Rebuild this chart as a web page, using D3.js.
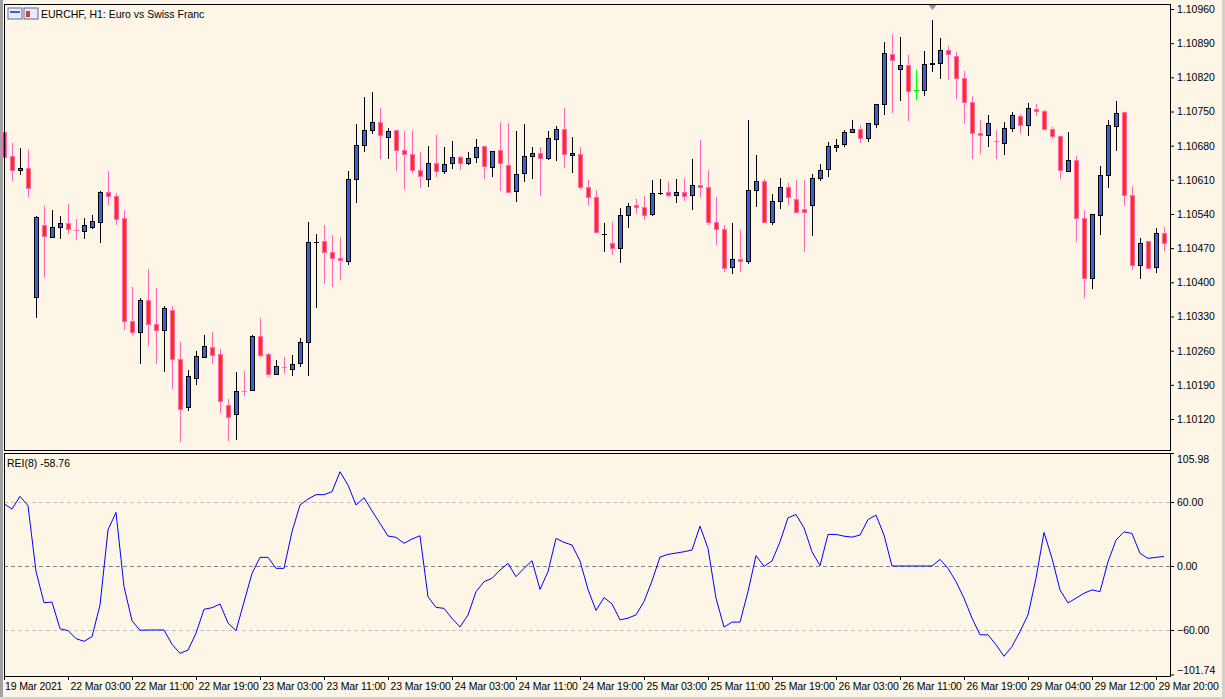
<!DOCTYPE html>
<html><head><meta charset="utf-8">
<script src="https://cdn.jsdelivr.net/npm/d3@7"></script>
<style>html,body{margin:0;padding:0;background:#fdf6e7;overflow:hidden}svg{display:block}text{font-family:"Liberation Sans",Arial,sans-serif;font-size:10.5px;fill:#000}</style>
</head><body><svg id="c" width="1225" height="699"></svg>
<script>
const openP=[1.10708,1.10659,1.10630,1.10634,1.10370,1.10517,1.10493,1.10513,1.10521,1.10508,1.10505,1.10513,1.10523,1.10585,1.10577,1.10532,1.10321,1.10298,1.10364,1.10314,1.10302,1.10343,1.10243,1.10144,1.10204,1.10247,1.10267,1.10253,1.10149,1.10130,1.10178,1.10179,1.10290,1.10253,1.10212,1.10227,1.10222,1.10235,1.10278,1.10482,1.10485,1.10462,1.10450,1.10444,1.10612,1.10681,1.10712,1.10728,1.10698,1.10712,1.10671,1.10663,1.10630,1.10612,1.10644,1.10628,1.10644,1.10657,1.10644,1.10657,1.10679,1.10636,1.10671,1.10640,1.10587,1.10624,1.10659,1.10665,1.10655,1.10694,1.10714,1.10661,1.10663,1.10595,1.10575,1.10498,1.10481,1.10470,1.10538,1.10558,1.10554,1.10540,1.10583,1.10585,1.10579,1.10585,1.10579,1.10599,1.10595,1.10523,1.10509,1.10431,1.10448,1.10444,1.10589,1.10608,1.10523,1.10567,1.10595,1.10571,1.10550,1.10558,1.10614,1.10632,1.10677,1.10683,1.10708,1.10714,1.10696,1.10724,1.10765,1.10868,1.10837,1.10845,1.10794,1.10794,1.10848,1.10849,1.10876,1.10864,1.10818,1.10769,1.10706,1.10702,1.10690,1.10685,1.10716,1.10741,1.10722,1.10755,1.10751,1.10714,1.10700,1.10628,1.10651,1.10532,1.10409,1.10538,1.10620,1.10720,1.10749,1.10579,1.10435,1.10485,1.10431,1.10501];
const highP=[1.10712,1.10685,1.10675,1.10671,1.10536,1.10556,1.10548,1.10536,1.10560,1.10530,1.10532,1.10538,1.10587,1.10628,1.10583,1.10548,1.10390,1.10368,1.10427,1.10388,1.10351,1.10351,1.10278,1.10220,1.10259,1.10292,1.10298,1.10263,1.10161,1.10216,1.10218,1.10292,1.10327,1.10255,1.10241,1.10247,1.10251,1.10286,1.10523,1.10499,1.10517,1.10497,1.10493,1.10628,1.10724,1.10780,1.10790,1.10757,1.10716,1.10712,1.10710,1.10712,1.10667,1.10679,1.10702,1.10677,1.10689,1.10659,1.10667,1.10694,1.10679,1.10669,1.10728,1.10726,1.10710,1.10724,1.10677,1.10677,1.10710,1.10720,1.10757,1.10698,1.10677,1.10609,1.10589,1.10521,1.10523,1.10552,1.10562,1.10571,1.10577,1.10609,1.10612,1.10606,1.10612,1.10614,1.10653,1.10692,1.10630,1.10575,1.10517,1.10521,1.10507,1.10733,1.10661,1.10612,1.10581,1.10614,1.10603,1.10609,1.10609,1.10622,1.10642,1.10687,1.10694,1.10712,1.10733,1.10722,1.10726,1.10765,1.10892,1.10909,1.10903,1.10866,1.10835,1.10874,1.10937,1.10901,1.10884,1.10872,1.10833,1.10782,1.10733,1.10742,1.10712,1.10728,1.10749,1.10745,1.10767,1.10765,1.10753,1.10718,1.10700,1.10708,1.10659,1.10548,1.10540,1.10638,1.10733,1.10771,1.10749,1.10597,1.10491,1.10485,1.10511,1.10513];
const lowP=[1.10655,1.10607,1.10620,1.10575,1.10327,1.10409,1.10493,1.10489,1.10499,1.10487,1.10489,1.10509,1.10480,1.10558,1.10517,1.10302,1.10292,1.10233,1.10269,1.10233,1.10216,1.10181,1.10073,1.10136,1.10190,1.10247,1.10233,1.10132,1.10075,1.10077,1.10167,1.10179,1.10247,1.10206,1.10210,1.10212,1.10208,1.10226,1.10208,1.10347,1.10396,1.10390,1.10405,1.10435,1.10562,1.10667,1.10704,1.10653,1.10653,1.10628,1.10589,1.10624,1.10593,1.10595,1.10616,1.10622,1.10632,1.10630,1.10640,1.10644,1.10612,1.10616,1.10587,1.10585,1.10564,1.10606,1.10612,1.10577,1.10651,1.10648,1.10634,1.10624,1.10589,1.10556,1.10501,1.10462,1.10456,1.10440,1.10511,1.10540,1.10528,1.10536,1.10579,1.10575,1.10562,1.10566,1.10548,1.10573,1.10517,1.10476,1.10421,1.10417,1.10421,1.10437,1.10554,1.10521,1.10517,1.10550,1.10558,1.10542,1.10462,1.10495,1.10608,1.10616,1.10667,1.10677,1.10708,1.10685,1.10687,1.10716,1.10743,1.10747,1.10771,1.10730,1.10773,1.10782,1.10831,1.10817,1.10814,1.10776,1.10724,1.10653,1.10663,1.10677,1.10653,1.10661,1.10708,1.10704,1.10700,1.10741,1.10714,1.10694,1.10612,1.10628,1.10483,1.10368,1.10386,1.10497,1.10593,1.10669,1.10556,1.10425,1.10407,1.10429,1.10419,1.10464];
const closeP=[1.10657,1.10630,1.10634,1.10593,1.10534,1.10495,1.10513,1.10521,1.10509,1.10507,1.10517,1.10526,1.10585,1.10577,1.10530,1.10321,1.10298,1.10364,1.10314,1.10302,1.10347,1.10243,1.10140,1.10208,1.10249,1.10269,1.10251,1.10157,1.10124,1.10177,1.10177,1.10290,1.10251,1.10212,1.10228,1.10226,1.10233,1.10278,1.10483,1.10483,1.10462,1.10450,1.10446,1.10612,1.10681,1.10712,1.10728,1.10702,1.10710,1.10671,1.10663,1.10630,1.10618,1.10644,1.10628,1.10642,1.10657,1.10644,1.10655,1.10677,1.10638,1.10669,1.10644,1.10585,1.10622,1.10659,1.10665,1.10655,1.10696,1.10714,1.10663,1.10665,1.10595,1.10575,1.10503,1.10499,1.10470,1.10538,1.10556,1.10554,1.10538,1.10583,1.10584,1.10579,1.10585,1.10577,1.10599,1.10595,1.10523,1.10509,1.10429,1.10448,1.10444,1.10589,1.10608,1.10523,1.10567,1.10595,1.10575,1.10544,1.10544,1.10614,1.10630,1.10679,1.10681,1.10708,1.10714,1.10696,1.10726,1.10765,1.10870,1.10855,1.10845,1.10792,1.10794,1.10847,1.10849,1.10876,1.10868,1.10818,1.10769,1.10706,1.10702,1.10726,1.10689,1.10716,1.10743,1.10722,1.10757,1.10751,1.10714,1.10700,1.10630,1.10651,1.10532,1.10409,1.10540,1.10620,1.10722,1.10747,1.10579,1.10435,1.10481,1.10429,1.10501,1.10481];
const rei=[58.4,53.4,65.3,56.6,-5,-34.4,-33.8,-58.8,-60.6,-68.1,-70.6,-66.3,-36.6,33.8,50.3,-19.4,-51.3,-60.3,-60,-60,-60,-73.4,-81.9,-78.8,-63.1,-40.6,-39.1,-35.6,-53.4,-60.6,-33.8,-6.9,8.1,8.1,-2.2,-2.2,32.2,57.2,62.8,66.9,66.9,69.7,88.4,75.9,57.2,64.1,51.6,40,28.1,26.9,21.3,25.3,28.4,-28.8,-38.8,-39.7,-49.1,-57.2,-45.9,-24.1,-14.7,-11.6,-3.8,2.5,-10,-2.2,5,-21.9,-5.3,25.9,22.2,19.7,4.7,-22,-41.7,-29.6,-35.5,-50.5,-48.9,-45.8,-33.3,-14,8.4,10.9,12.1,13.4,15,37.4,16.5,-30.2,-57.3,-52.6,-52.6,-24,9.7,-0.3,4.7,22.7,45.2,48.3,35.8,13.4,0.3,29.6,29.6,28,27.1,29,43.6,47.7,29,0,0,0,0,0,0,6.2,-2.2,-14.6,-30.2,-48.9,-64.5,-64.5,-73.8,-84.7,-75.4,-61.4,-45.8,-11.5,31.5,7.2,-22.4,-34.6,-30.2,-25.5,-22.4,-24,4,24.3,32.1,30.5,11.8,7.2,8.1,9];
const priceTicks=[1.10960,1.10890,1.10820,1.10750,1.10680,1.10610,1.10540,1.10470,1.10400,1.10330,1.10260,1.10190,1.10120];
const reiTicks=[105.98,60,0,-60,-101.74];
const timeLabels=["19 Mar 2021","22 Mar 03:00","22 Mar 11:00","22 Mar 19:00","23 Mar 03:00","23 Mar 11:00","23 Mar 19:00","24 Mar 03:00","24 Mar 11:00","24 Mar 19:00","25 Mar 03:00","25 Mar 11:00","25 Mar 19:00","26 Mar 03:00","26 Mar 11:00","26 Mar 19:00","29 Mar 04:00","29 Mar 12:00","29 Mar 20:00"];
const timeIdx=[0,8,16,24,32,40,48,56,64,72,80,88,96,104,112,120,128,136,144];

const svg=d3.select("#c");
const L=4,R=1170,T1=4,B1=450,T2=453,B2=676;
svg.append("rect").attr("width",1225).attr("height",699).attr("fill","#fdf6e7");
svg.append("rect").attr("x",0).attr("y",0).attr("width",3).attr("height",699).attr("fill","#a0a0a0");
svg.append("rect").attr("x",0).attr("y",697).attr("width",1225).attr("height",2).attr("fill","#d4d0c8");
svg.append("rect").attr("x",1222).attr("y",0).attr("width",3).attr("height",699).attr("fill","#d4d0c8");
const n=closeP.length;
const x=d3.scaleLinear().domain([0,n-1]).range([4,1164]);
const y=d3.scaleLinear().domain([1.10960,1.10120]).range([9,419]);
const y2=d3.scaleLinear().domain([105.98,-101.74]).range([T2,674.5]);

const g=svg.append("g").attr("shape-rendering","crispEdges");
const pa=svg.append("g").attr("transform",`translate(${R},0)`).call(d3.axisRight(y).tickValues(priceTicks).tickFormat(d3.format(".5f")).tickSize(4).tickPadding(3));
pa.select(".domain").remove();
pa.selectAll("text").attr("font-size","10px").attr("font-family","Liberation Sans");
const ra=svg.append("g").attr("transform",`translate(${R},0)`).call(d3.axisRight(y2).tickValues(reiTicks).tickFormat(d3.format(".2f")).tickSize(4).tickPadding(3));
ra.select(".domain").remove();
ra.selectAll("text").attr("font-size","10px").attr("font-family","Liberation Sans").attr("dy",(d)=>d===105.98?"0.9em":(d===-101.74?"-0.1em":"0.32em"));
const ta=svg.append("g").attr("transform",`translate(0,${B2})`);
timeIdx.forEach((t,k)=>{
  const xx=Math.round(x(t))+0.5;
  ta.append("line").attr("x1",xx).attr("x2",xx).attr("y1",0).attr("y2",4).attr("stroke","#000");
  ta.append("text").attr("x",k===0?5:xx+2).attr("y",14).attr("font-size","10px").attr("letter-spacing","-0.15px").text(timeLabels[k]);
});
[60,0,-60].forEach(v=>{
  svg.append("line").attr("x1",L).attr("x2",R).attr("y1",Math.round(y2(v))+0.5).attr("y2",Math.round(y2(v))+0.5)
   .attr("stroke",v===0?"#808080":"#c0c0c0").attr("stroke-dasharray","4,3");
});
d3.range(n).forEach(i=>{
  const o=openP[i],c=closeP[i],h=highP[i],l=lowP[i];
  const xc=Math.round(x(i));
  const bull=c>o,bear=c<o;
  const wick=bull?"#000":(bear?"#ff69b4":"#00ff00");
  g.append("line").attr("x1",xc+0.5).attr("x2",xc+0.5).attr("y1",y(h)).attr("y2",y(l)).attr("stroke",wick).attr("stroke-width",1);
  const top=Math.round(y(Math.max(o,c))),bot=Math.round(y(Math.min(o,c)));
  if(bot-top<1){
    g.append("line").attr("x1",xc-2).attr("x2",xc+3).attr("y1",top+0.5).attr("y2",top+0.5).attr("stroke",wick);
  } else {
    g.append("rect").attr("x",xc-2+0.5).attr("y",top+0.5).attr("width",4).attr("height",bot-top)
     .attr("fill",bull?"#3a62d9":"#ff3300").attr("stroke",bull?"#000":"#ff69b4").attr("stroke-width",1);
  }
});
svg.append("path").datum(rei).attr("fill","none").attr("stroke","#0000ff").attr("stroke-width",1)
  .attr("d",d3.line().x((d,i)=>x(i)).y(d=>y2(d)));
svg.append("rect").attr("x",L+0.5).attr("y",T1+0.5).attr("width",R-L).attr("height",B1-T1).attr("fill","none").attr("stroke","#000");
svg.append("rect").attr("x",L+0.5).attr("y",T2+0.5).attr("width",R-L).attr("height",B2-T2).attr("fill","none").attr("stroke","#000");
const mi=d3.maxIndex(highP);
const mx=Math.round(x(mi))+0.5;
svg.append("path").attr("d",`M${mx-4},5 L${mx+4},5 L${mx},10 Z`).attr("fill","#8a96a8");
const ic=svg.append("g").attr("transform","translate(8,8)");
ic.append("rect").attr("width",14).attr("height",11).attr("fill","#e8ecf8").attr("stroke","#5a6a9a");
ic.append("rect").attr("x",16).attr("width",14).attr("height",11).attr("fill","#e8ecf8").attr("stroke","#5a6a9a");
ic.append("rect").attr("x",18).attr("y",3).attr("width",4).attr("height",6).attr("fill","#d04040");
ic.append("rect").attr("x",2).attr("y",3).attr("width",10).attr("height",2).attr("fill","#4060c0");
svg.append("text").attr("x",41).attr("y",18).attr("font-size","10px").text("EURCHF, H1:  Euro vs Swiss Franc");
svg.append("text").attr("x",7).attr("y",467).attr("font-size","10px").text("REI(8) -58.76");
</script></body></html>
